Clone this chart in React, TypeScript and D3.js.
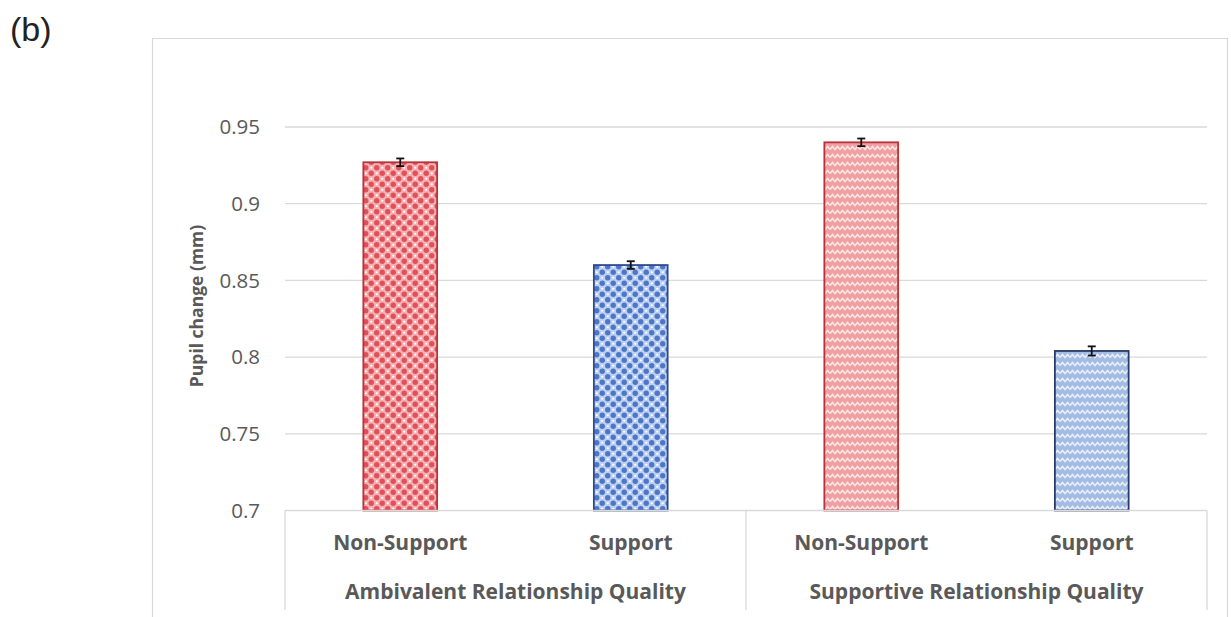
import React from "react";
import * as d3 from "d3";

const groups = ["Ambivalent Relationship Quality", "Supportive Relationship Quality"];
const conditions = ["Non-Support", "Support"];
const categories = ["A-Non-Support", "A-Support", "S-Non-Support", "S-Support"];
const values = [0.927, 0.86, 0.94, 0.804];
const errors = [0.0025, 0.0025, 0.0025, 0.003];
const yTicks = [0.7, 0.75, 0.8, 0.85, 0.9, 0.95];
const yTickLabels = ["0.7", "0.75", "0.8", "0.85", "0.9", "0.95"];
const fills = ["url(#dotRed)", "url(#dotBlue)", "url(#zigRed)", "url(#zigBlue)"];
const strokes = ["#b8323a", "#2d4b8c", "#b8323a", "#2a3a68"];

const W = 1231;
const H = 617;
const left = 285;
const right = 1207;
const axisY = 510.5;
const topY = 127;

export default function App() {
  const x = d3.scaleBand<string>().domain(categories).range([left, right]).paddingInner(0.68).paddingOuter(0.34);
  const y = d3.scaleLinear().domain([0.7, 0.95]).range([axisY, topY]);
  const groupX = d3.scaleBand<string>().domain(groups).range([left, right]);
  const grey = "#595959";
  const font = "'Open Sans', sans-serif";

  return (
    <svg width={W} height={H} style={{ position: "absolute", left: 0, top: 0, background: "#fff" }}>
      <defs>
        <pattern id="dotRed" width="11" height="11" patternUnits="userSpaceOnUse">
          <rect width="11" height="11" fill="#f5b0b2" />
          <circle cx="2.75" cy="2.75" r="2.7" fill="#e0505a" />
          <circle cx="8.25" cy="8.25" r="2.7" fill="#e0505a" />
          <circle cx="8.25" cy="2.75" r="1.1" fill="#fff" />
          <circle cx="2.75" cy="8.25" r="1.1" fill="#fff" />
        </pattern>
        <pattern id="dotBlue" width="11" height="11" patternUnits="userSpaceOnUse">
          <rect width="11" height="11" fill="#bcd0f2" />
          <circle cx="2.75" cy="2.75" r="2.7" fill="#4e76c6" />
          <circle cx="8.25" cy="8.25" r="2.7" fill="#4e76c6" />
          <circle cx="8.25" cy="2.75" r="1.1" fill="#fff" />
          <circle cx="2.75" cy="8.25" r="1.1" fill="#fff" />
        </pattern>
        <pattern id="zigRed" width="10" height="8" patternUnits="userSpaceOnUse">
          <rect width="10" height="8" fill="#f0a0a2" />
          <path d="M0,5.5 L2.5,2.5 L5,5.5 L7.5,2.5 L10,5.5" stroke="#fde6e6" strokeWidth="1.6" fill="none" />
        </pattern>
        <pattern id="zigBlue" width="10" height="8" patternUnits="userSpaceOnUse">
          <rect width="10" height="8" fill="#a4bbe4" />
          <path d="M0,5.5 L2.5,2.5 L5,5.5 L7.5,2.5 L10,5.5" stroke="#e8effb" strokeWidth="1.6" fill="none" />
        </pattern>
      </defs>

      {/* (b) label */}
      <text x={10} y={41} fontFamily="'Liberation Sans', Arial, sans-serif" fontSize={34} fill="#222">(b)</text>

      {/* outer chart frame */}
      <path d={`M152.5,${H} V38.5 H1227.5 V${H}`} fill="none" stroke="#d9d9d9" strokeWidth={1.2} />

      {/* gridlines */}
      {yTicks.slice(1).map((t) => (
        <line key={t} x1={left} x2={right} y1={y(t)} y2={y(t)} stroke="#d9d9d9" strokeWidth={1.3} />
      ))}

      {/* y tick labels */}
      {yTicks.map((t, i) => (
        <text key={t} x={260} y={y(t)} dy="0.35em" textAnchor="end" fontFamily={font} fontSize={20.5} fill={grey}>
          {yTickLabels[i]}
        </text>
      ))}

      {/* y axis title */}
      <text
        transform={`translate(203,306) rotate(-90)`}
        textAnchor="middle"
        fontFamily={font}
        fontWeight="bold"
        fontSize={17.5}
        fill={grey}
      >
        Pupil change (mm)
      </text>

      {/* bars */}
      {categories.map((c, i) => (
        <rect
          key={c}
          x={x(c)!}
          y={y(values[i])}
          width={x.bandwidth()}
          height={axisY - y(values[i])}
          fill={fills[i]}
          stroke={strokes[i]}
          strokeWidth={1.8}
        />
      ))}

      {/* error bars */}
      {categories.map((c, i) => {
        const cx = x(c)! + x.bandwidth() / 2;
        const y1 = y(values[i] + errors[i]);
        const y2 = y(values[i] - errors[i]);
        return (
          <g key={c} stroke="#111" strokeWidth={1.8}>
            <line x1={cx} x2={cx} y1={y1} y2={y2} />
            <line x1={cx - 4} x2={cx + 4} y1={y1} y2={y1} />
            <line x1={cx - 4} x2={cx + 4} y1={y2} y2={y2} />
          </g>
        );
      })}

      {/* category axis */}
      <line x1={left} x2={right} y1={axisY} y2={axisY} stroke="#d9d9d9" strokeWidth={1.3} />
      {[left, groupX(groups[1])!, right].map((xx) => (
        <line key={xx} x1={xx} x2={xx} y1={axisY} y2={610} stroke="#d9d9d9" strokeWidth={1.3} />
      ))}

      {categories.map((c, i) => (
        <text
          key={c}
          x={x(c)! + x.bandwidth() / 2}
          y={543}
          dy="0.35em"
          textAnchor="middle"
          fontFamily={font}
          fontWeight="bold"
          fontSize={21}
          fill={grey}
        >
          {conditions[i % 2]}
        </text>
      ))}

      {groups.map((g) => (
        <text
          key={g}
          x={groupX(g)! + groupX.bandwidth() / 2}
          y={592}
          dy="0.35em"
          textAnchor="middle"
          fontFamily={font}
          fontWeight="bold"
          fontSize={21}
          fill={grey}
        >
          {g}
        </text>
      ))}
    </svg>
  );
}
